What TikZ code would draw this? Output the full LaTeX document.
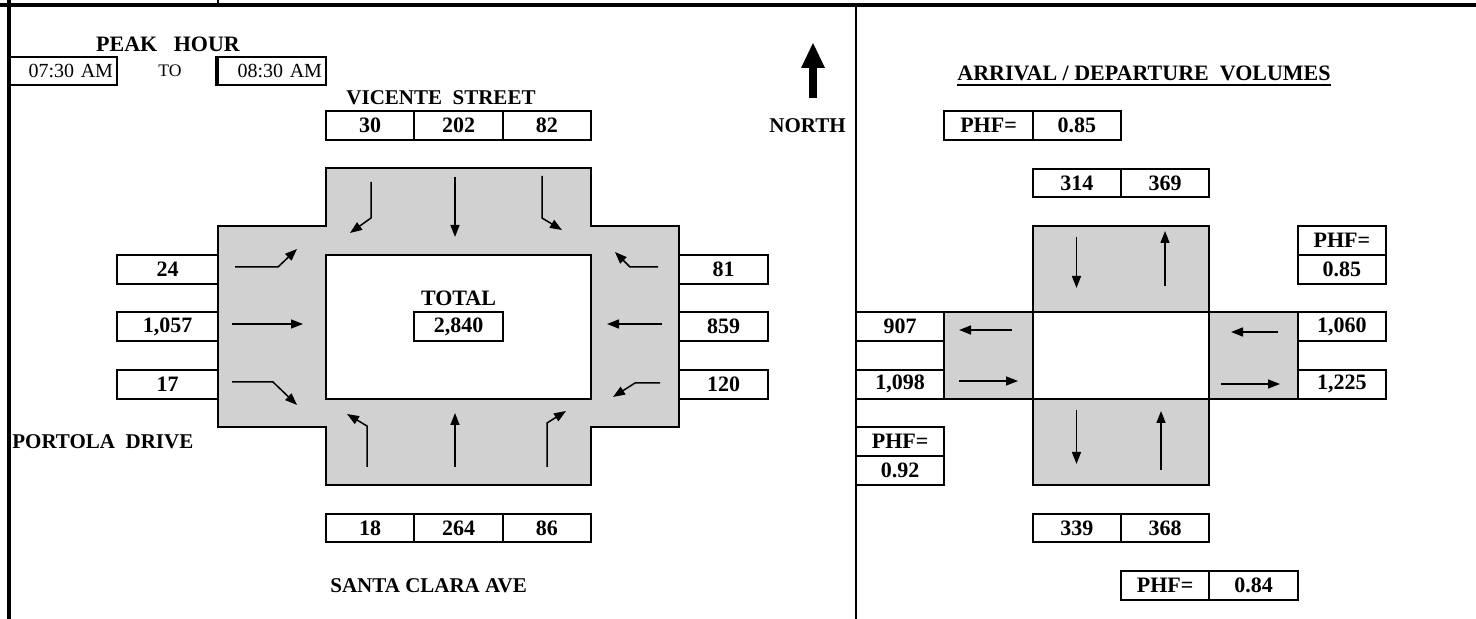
\documentclass[tikz,border=0pt]{standalone}
\usepackage{fontspec}
\setmainfont{Liberation Serif}
\usetikzlibrary{arrows.meta}

\newcommand{\numfont}{\bfseries\fontsize{11}{13}\selectfont}
\newcommand{\labfont}{\bfseries\fontsize{10.5}{12}\selectfont}

\tikzset{
  cell/.style={draw, line width=1pt, inner sep=0pt, minimum width=44.17pt, minimum height=14.38pt, font=\numfont},
  wcell/.style={cell, minimum width=50.5pt},
  timebox/.style={draw, line width=1pt, inner ysep=0pt, inner xsep=2pt, text width=50pt, align=right, minimum height=14pt, font=\fontsize{10}{12}\selectfont},
  lab/.style={inner sep=0pt, font=\labfont},
  road/.style={draw, line width=1pt, fill=black!18},
  mv/.style={line width=0.75pt, -{Triangle[length=6pt, width=4.5pt]}}
}

\begin{document}
\begin{tikzpicture}[x=0.5pt, y=-0.5pt]
    \useasboundingbox (0,0) rectangle (1476,619);

    % Sheet frame
    \draw[line width=1.7pt] (0,5) -- (1476,5);
    \draw[line width=1.7pt] (9,0) -- (9,619);
    \draw[line width=1pt] (218,0) -- (218,5);
    \draw[line width=1pt] (856,5) -- (856,619);

    % Peak hour
    \node[lab, font=\numfont] (peak) at (168,44) {PEAK\ \ \ HOUR};
    \node[timebox] (start) at (63,71) {07:30 AM};
    \node[inner sep=0pt, font=\fontsize{8.8}{10}\selectfont] (to) at (170,71) {TO};
    \node[timebox] (stop) at (272,71) {08:30 AM};
    \draw[line width=2pt] (stop.north west) -- (stop.south west);

    % Intersection
    \draw[road] (326,168.5) -- (591,168.5) -- (591,226) -- (679.3,226) -- (679.3,427.4)
        -- (591,427.4) -- (591,484.9) -- (326,484.9) -- (326,427.4) -- (218,427.4)
        -- (218,226) -- (326,226) -- cycle;
    \draw[line width=1pt, fill=white] (326,254.8) rectangle (591,398.6);

    % Turning movements
    \foreach \xa/\ya/\xb/\yb/\xc/\yc in {371/182/371/218/350/233, 542/176/542/218/562/230,
        235/267/278/267/297/249, 232/382/273/382/297/405, 658/267/630/267/615/252,
        660/383/635/383/613/397, 367/467/367/426/347/414, 547/467/547/423/566/411}
        \draw[mv] (\xa,\ya) -- (\xb,\yb) -- (\xc,\yc);
    \foreach \xa/\ya/\xb/\yb in {455/177/455/237, 232/324/303/324, 662/324/607/324, 455/467/455/413}
        \draw[mv] (\xa,\ya) -- (\xb,\yb);

    % Approach volumes
    \node[lab] (vicente) at (441,98) {VICENTE\ \ STREET};
    \node[cell] (sbr) at (370.15,125.4) {30};
    \node[cell] (sbt) at (458.5,125.4) {202};
    \node[cell] (sbl) at (546.85,125.4) {82};
    \node[wcell] (ebl) at (167.5,269.2) {24};
    \node[wcell] (ebt) at (167.5,326.65) {1,057};
    \node[wcell] (ebr) at (167.5,384.25) {17};
    \node[cell] (wbr) at (723.5,269.2) {81};
    \node[cell] (wbt) at (723.5,326.65) {859};
    \node[cell] (wbl) at (723.5,384.25) {120};
    \node[cell] (nbl) at (370.15,528) {18};
    \node[cell] (nbt) at (458.5,528) {264};
    \node[cell] (nbr) at (546.85,528) {86};
    \node[lab, font=\numfont] (total) at (458.5,298) {TOTAL};
    \node[cell] (sum) at (458.5,326.65) {2,840};
    \node[lab, anchor=west] (portola) at (12,442) {PORTOLA\ \ DRIVE};
    \node[lab, anchor=west] (clara) at (330,585.5) {SANTA CLARA AVE};

    % North arrow
    \fill (809,98) rectangle (817,66);
    \fill (801,68) -- (825,68) -- (813,43) -- cycle;
    \node[lab, anchor=east] (north) at (846,125.4) {NORTH};

    % Arrival / departure volumes
    \node[lab, font=\numfont] (arrdep) at (1144,73) {ARRIVAL / DEPARTURE\ \ VOLUMES};
    \draw[line width=0.9pt] ([yshift=-2.5pt]arrdep.base west) -- ([yshift=-2.5pt]arrdep.base east);
    \draw[road] (1032.7,226) rectangle (1209.3,312.3);
    \draw[road] (944.3,312.3) rectangle (1032.7,398.6);
    \draw[road] (1209.3,312.3) rectangle (1297.7,398.6);
    \draw[road] (1032.7,398.6) rectangle (1209.3,484.9);
    \draw[line width=1pt] (1032.7,312.3) rectangle (1209.3,398.6);
    \foreach \xa/\ya/\xb/\yb in {1076.5/237/1076.5/288, 1165/286/1165/231, 1012/330/959/330,
        959/381/1018/381, 1278/332/1231/332, 1221/384/1280/384, 1076.5/410/1076.5/464, 1161/470/1161/411}
        \draw[mv] (\xa,\ya) -- (\xb,\yb);

    \node[cell] (phfn) at (988.5,125.4) {PHF=};
    \node[cell] (phfnv) at (1076.85,125.4) {0.85};
    \node[cell] (nin) at (1076.85,182.9) {314};
    \node[cell] (nout) at (1165.15,182.9) {369};
    \node[cell] (phfe) at (1341.85,240.4) {PHF=};
    \node[cell] (phfev) at (1341.85,269.2) {0.85};
    \node[cell] (wout) at (900.15,326.65) {907};
    \node[cell] (win) at (900.15,384.25) {1,098};
    \node[cell] (ein) at (1341.85,326.65) {1,060};
    \node[cell] (eout) at (1341.85,384.25) {1,225};
    \node[cell] (phfw) at (900.15,441.7) {PHF=};
    \node[cell] (phfwv) at (900.15,470.45) {0.92};
    \node[cell] (sout) at (1076.85,528) {339};
    \node[cell] (sin) at (1165.15,528) {368};
    \node[cell] (phfs) at (1165.15,585.5) {PHF=};
    \node[cell] (phfsv) at (1253.5,585.5) {0.84};
\end{tikzpicture}
\end{document}
